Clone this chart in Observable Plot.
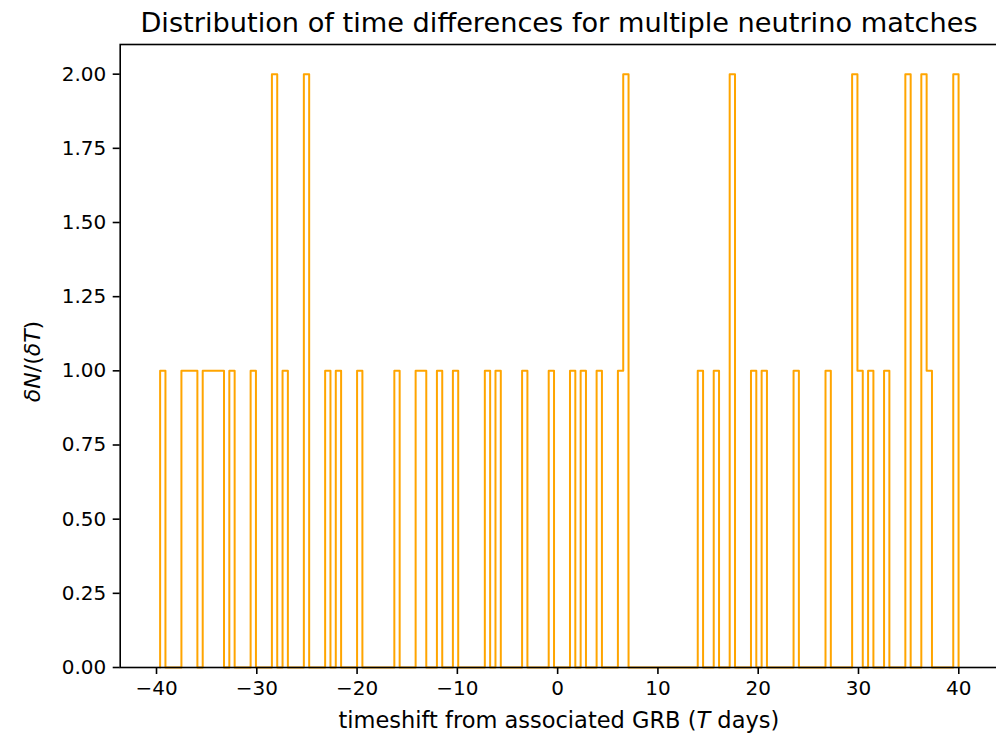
<!DOCTYPE html>
<html>
<head>
<meta charset="utf-8">
<script src="https://cdn.jsdelivr.net/npm/d3@7"></script>
<script src="https://cdn.jsdelivr.net/npm/@observablehq/plot@0.6"></script>
<style>
  html, body { margin: 0; padding: 0; background: #fff; overflow: hidden; }
  body { width: 996px; height: 740px; font-family: "DejaVu Sans", sans-serif; }
  #title { position: relative; width: 996px; height: 34px; }
  #title span { position: absolute; left: 120px; width: 878px; top: 9px; line-height: 27px;
                text-align: center; font-size: 27.2px; color: #000; white-space: nowrap; }
  #chart svg { display: block; }
</style>
</head>
<body>
<div id="title"><span>Distribution of time differences for multiple neutrino matches</span></div>
<div id="chart"></div>
<script>
// Histogram definition (days): range of the data and number of bins
const histRange = [-39.64, 39.98];
const nBins = 150;
// Bins that contain matches (index from the left edge) and their counts
const occupiedBins = [0, 4, 5, 6, 8, 9, 10, 11, 13, 17, 21, 23, 27, 31, 33, 37, 44, 48, 49, 52,
                      55, 61, 63, 68, 73, 77, 79, 82, 86, 87, 101, 104, 107, 111, 113, 119, 125,
                      130, 131, 133, 136, 140, 143, 144, 149];
const binCounts    = [1, 1, 1, 1, 1, 1, 1, 1, 1, 1, 2, 1, 2, 1, 1, 1, 1, 1, 1, 1,
                      1, 1, 1, 1, 1, 1, 1, 1, 1, 2, 1, 1, 2, 1, 1, 1, 1,
                      2, 1, 1, 1, 2, 2, 1, 2];
const xTicks = [-40, -30, -20, -10, 0, 10, 20, 30, 40];
const yTicks = [0, 0.25, 0.5, 0.75, 1, 1.25, 1.5, 1.75, 2];

const span = histRange[1] - histRange[0];
const binWidth = span / nBins;
const counts = new Array(nBins).fill(0);
occupiedBins.forEach((b, i) => { counts[b] = binCounts[i]; });

// outline of a step histogram
const stepPts = [{x: histRange[0], y: 0}];
counts.forEach((c, i) => stepPts.push({x: histRange[0] + i * binWidth, y: c}));
stepPts.push({x: histRange[1], y: 0});

const xDomain = [histRange[0] - 0.05 * span, histRange[1] + 0.05 * span];
const yDomain = [0, 2.1];

const W = 996, H = 706;
const mL = 119.7, mR = -2, mT = 10, mB = 73;

const chart = Plot.plot({
  width: W, height: H,
  marginLeft: mL, marginRight: mR, marginTop: mT, marginBottom: mB,
  style: {fontFamily: "DejaVu Sans, sans-serif", fontSize: "20px", background: "#fff", color: "#000", overflow: "hidden"},
  x: {domain: xDomain, ticks: xTicks, tickFormat: d3.format("d"), tickSize: 7, tickPadding: 6, label: null},
  y: {domain: yDomain, ticks: yTicks, tickFormat: d3.format(".2f"), tickSize: 7, tickPadding: 7, label: null},
  marks: [
    Plot.line(stepPts, {x: "x", y: "y", curve: "step-after", stroke: "#FFA500", strokeWidth: 2}),
    Plot.frame({stroke: "#000", strokeWidth: 1.6}),
    Plot.axisX({ticks: xTicks, tickFormat: d3.format("d"), tickSize: 7, tickPadding: 6, strokeWidth: 1.6, label: null}),
    Plot.axisY({ticks: yTicks, tickFormat: d3.format(".2f"), tickSize: 7, tickPadding: 7, strokeWidth: 1.6, label: null})
  ]
});
document.getElementById("chart").appendChild(chart);

// Axis labels with mixed italic (math) text
const svg = d3.select(chart);
const xs = chart.scale("x"), ys = chart.scale("y");
const xMidAxes = (xs.range[0] + xs.range[1]) / 2;
const yMid = (ys.range[0] + ys.range[1]) / 2;

const xl = svg.append("text")
  .attr("x", xMidAxes).attr("y", H - 12)
  .attr("text-anchor", "middle").attr("font-size", 22.5).attr("fill", "#000")
  .attr("font-family", "DejaVu Sans, sans-serif");
xl.append("tspan").text("timeshift from associated GRB (");
xl.append("tspan").attr("font-style", "italic").text("T");
xl.append("tspan").text("\u00a0days)");

const yl = svg.append("text")
  .attr("transform", `translate(40,${yMid + 6}) rotate(-90)`)
  .attr("text-anchor", "middle").attr("font-size", 22).attr("fill", "#000")
  .attr("font-family", "DejaVu Sans, sans-serif");
yl.append("tspan").attr("font-style", "italic").text("\u03b4N");
yl.append("tspan").text("/(");
yl.append("tspan").attr("font-style", "italic").text("\u03b4T");
yl.append("tspan").text(")");
</script>
</body>
</html>
